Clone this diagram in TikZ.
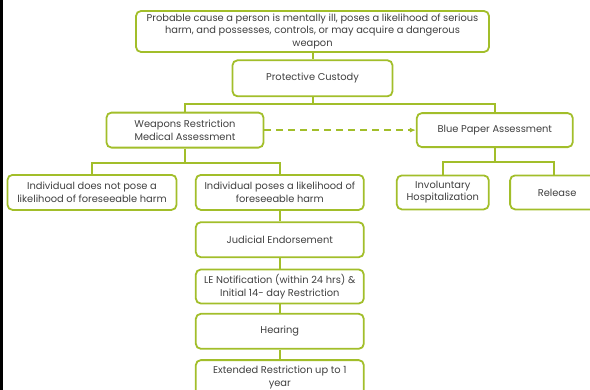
\documentclass[tikz,border=0pt]{standalone}
\usepackage{fontspec}
\setmainfont{Poppins}
\usepackage{tikz}
\usetikzlibrary{arrows.meta, positioning}
\definecolor{boxgreen}{RGB}{162,190,42}
\definecolor{textgray}{RGB}{64,64,64}

\begin{document}
\begin{tikzpicture}[
    box/.style={draw=boxgreen, line width=1.8bp, rounded corners=5bp, fill=white,
      minimum height=35bp, inner sep=2bp, align=center, text=textgray,
      font=\fontsize{9.9}{12.5}\selectfont},
    link/.style={draw=boxgreen, line width=2bp}
  ]
    % frame of the slide
    \useasboundingbox (0,0) rectangle (590bp,-390bp);
    \fill[black] (0,0) rectangle (2.5bp,-390bp);

    % top of the chart
    \node[box, minimum width=353bp, minimum height=41bp] (cause) at (312.5bp,-31.5bp)
      {Probable cause a person is mentally ill, poses a likelihood of serious\\
       harm, and possesses, controls, or may acquire a dangerous\\weapon};
    \node[box, minimum width=160bp, minimum height=36bp, below=6.5bp of cause] (custody) {Protective Custody};

    % two assessments
    \node[box, minimum width=157bp, below=14.5bp of custody, xshift=-127.5bp] (wra) {Weapons Restriction\\Medical Assessment};
    \node[box, minimum width=156bp, minimum height=34bp, right=151.5bp of wra] (bpa) {Blue Paper Assessment};

    % outcomes of the medical assessment
    \node[box, minimum width=169bp, below=25.5bp of wra, xshift=-93bp] (nopose) {Individual does not pose a\\likelihood of foreseeable harm};
    \node[box, minimum width=168bp, right=17.5bp of nopose] (pose) {Individual poses a likelihood of\\foreseeable harm};
    \node[box, minimum width=168bp, below=10.5bp of pose] (judicial) {Judicial Endorsement};
    \node[box, minimum width=168bp, minimum height=34bp, below=10.5bp of judicial] (notify) {LE Notification (within 24 hrs) \&\\Initial 14- day Restriction};
    \node[box, minimum width=168bp, below=8.5bp of notify] (hearing) {Hearing};
    \node[box, minimum width=168bp, below=9.5bp of hearing] (extended) {Extended Restriction up to 1\\year};

    % outcomes of the blue paper
    \node[box, minimum width=92bp, minimum height=34bp, below=26.5bp of bpa, xshift=-52bp] (invol) {Involuntary\\Hospitalization};
    \node[box, minimum width=94bp, minimum height=34bp, right=16.5bp of invol, xshift=3bp] (release) {Release};

    % connectors
    \draw[link] (cause) -- (custody);
    \draw[link] (custody.south) -- ++(0,-7bp) -| (wra.north);
    \draw[link] (custody.south) -- ++(0,-7bp) -| (bpa.north);
    \draw[link] (wra.south) -- ++(0,-14bp) -| (nopose.north);
    \draw[link] (wra.south) -- ++(0,-14bp) -| (pose.north);
    \draw[link] (bpa.south) -- ++(0,-14bp) -| (invol.north);
    \draw[link] (bpa.south) -- ++(0,-14bp) -| ([xshift=-3bp]release.north);
    \draw[link] (pose) -- (judicial);
    \draw[link] (judicial) -- (notify);
    \draw[link] (notify) -- (hearing);
    \draw[link] (hearing) -- (extended);
    \draw[link, dash pattern=on 7bp off 5bp, -{Latex[length=6bp, width=5bp]}] (wra.east) -- (bpa.west);
  \end{tikzpicture}
\end{document}
